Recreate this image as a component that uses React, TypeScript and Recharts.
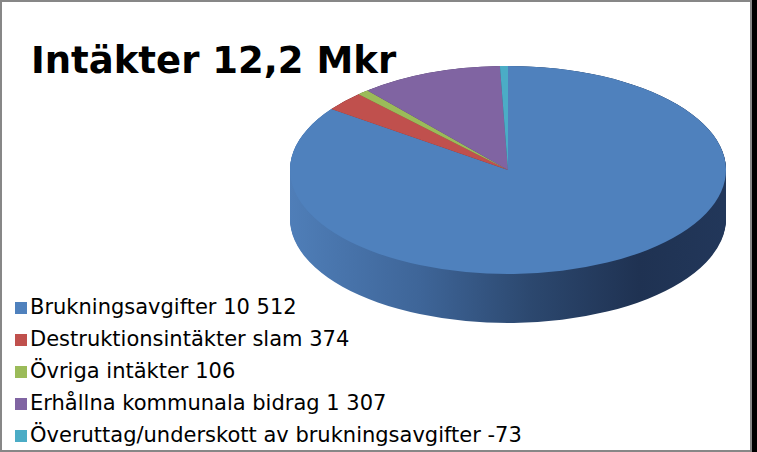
import { PieChart, Pie, Cell } from 'recharts'

const title = 'Intäkter 12,2 Mkr'
const categories = [
  'Brukningsavgifter',
  'Destruktionsintäkter slam',
  'Övriga intäkter',
  'Erhållna kommunala bidrag',
  'Överuttag/underskott av brukningsavgifter',
]
const values = [10512, 374, 106, 1307, -73]
const colors = ['#4F81BD', '#C0504D', '#9BBB59', '#8064A2', '#4BACC6']
const sideColors = ['url(#sideBlue)', '#7a3231', '#62773a', '#514069', '#2f6e7f']

// pie geometry (unscaled chart coords, squashed by scaleY below)
const SQ = 104 / 218
const R = 218
const CX = 508
const CY = 170 / SQ
const DEPTH = 49 / SQ
const layers = Array.from({ length: Math.ceil(DEPTH / 2) + 1 }, (_, i) => Math.max(DEPTH - i * 2, 0))

function fmt(n: number) {
  const s = Math.abs(n).toString().replace(/\B(?=(\d{3})+(?!\d))/g, ' ')
  return n < 0 ? `-${s}` : s
}

const data = categories.map((name, i) => ({ name, v: Math.abs(values[i]) }))

export default function App() {
  return (
    <div style={{ position: 'relative', width: 757, height: 452, overflow: 'hidden', background: '#fff' }}>
      <style>{'body{margin:0}'}</style>
      <svg width={0} height={0} style={{ position: 'absolute' }}>
        <defs>
          <linearGradient id="sideBlue" gradientUnits="userSpaceOnUse" x1={CX - R} y1={0} x2={CX + R} y2={0}>
            <stop offset="0" stopColor="#4f7eb8" />
            <stop offset="0.3" stopColor="#3e6598" />
            <stop offset="0.55" stopColor="#2c486f" />
            <stop offset="0.8" stopColor="#1f3252" />
            <stop offset="1" stopColor="#22375a" />
          </linearGradient>
        </defs>
      </svg>

      <div style={{ position: 'absolute', left: 0, top: 0, width: 757, height: 700, transform: `scaleY(${SQ})`, transformOrigin: 'top left' }}>
        <PieChart width={757} height={700} margin={{ top: 0, right: 0, bottom: 0, left: 0 }}>
          {layers.map((d) => (
            <Pie
              key={`side-${d}`}
              data={data}
              dataKey="v"
              cx={CX}
              cy={CY + d}
              outerRadius={R}
              startAngle={90}
              endAngle={-270}
              stroke="none"
              isAnimationActive={false}
            >
              {data.map((_, i) => (
                <Cell key={i} fill={sideColors[i]} />
              ))}
            </Pie>
          ))}
          <Pie
            data={data}
            dataKey="v"
            cx={CX}
            cy={CY}
            outerRadius={R}
            startAngle={90}
            endAngle={-270}
            stroke="none"
            isAnimationActive={false}
          >
            {data.map((_, i) => (
              <Cell key={i} fill={colors[i]} />
            ))}
          </Pie>
        </PieChart>
      </div>

      <div
        style={{
          position: 'absolute', left: 31, top: 42, fontFamily: 'DejaVu Sans', fontWeight: 'bold',
          fontSize: 37, lineHeight: 1, color: '#000', whiteSpace: 'nowrap',
        }}
      >
        {title}
      </div>

      <div style={{ position: 'absolute', left: 15, top: 291, fontFamily: 'DejaVu Sans', fontSize: 21, lineHeight: '32px', color: '#000' }}>
        {categories.map((name, i) => (
          <div key={name} style={{ whiteSpace: 'nowrap' }}>
            <span style={{ display: 'inline-block', width: 12, height: 12, background: colors[i], marginRight: 3 }} />
            {`${name} ${fmt(values[i])}`}
          </div>
        ))}
      </div>

      <div style={{ position: 'absolute', left: 0, top: 0, width: 752, height: 452, border: '2px solid #878787', boxSizing: 'border-box' }} />
      <div style={{ position: 'absolute', left: 752, top: 0, width: 5, height: 452, background: '#000' }} />
    </div>
  )
}
